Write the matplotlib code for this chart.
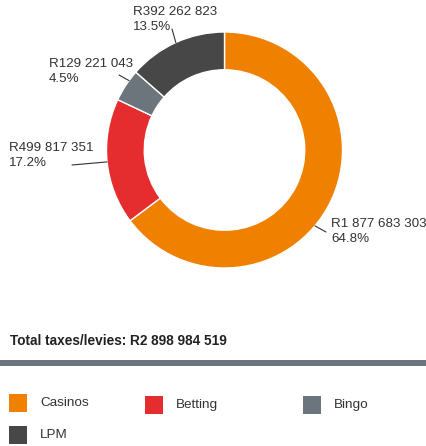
import numpy as np
import matplotlib.pyplot as plt
from matplotlib.patches import Rectangle

plt.rcParams['font.family'] = ['Liberation Sans', 'DejaVu Sans']

# --- data ---
categories = ["Casinos", "Betting", "Bingo", "LPM"]
values = [1877683303, 499817351, 129221043, 392262823]
percents = ["64.8%", "17.2%", "4.5%", "13.5%"]
total_label = "Total taxes/levies: R2 898 984 519"
colors = ["#F08000", "#E52D2F", "#6B757B", "#474747"]

W, H = 427, 446


def fx(px):
    return px / W


def fy(py):
    return 1 - py / H


def money(v):
    s = f"{v:,}".replace(",", " ")
    return "R" + s


fig = plt.figure(figsize=(W / 100, H / 100), dpi=100)

# donut, centre at (224.5, 150) px, outer radius 118 px
cx, cy, r = 224.5, 150, 118
ax = fig.add_axes([fx(cx - r), fy(cy + r), 2 * r / W, 2 * r / H])
wedges, _ = ax.pie(values, colors=colors, startangle=90, counterclock=False,
                   radius=1, wedgeprops=dict(width=0.32, edgecolor="white", linewidth=1))
ax.set_xlim(-1, 1)
ax.set_ylim(-1, 1)
ax.set_aspect("equal")
ax.axis("off")

# label text positions (px) and leader line ends (px)
text_pos = [(331, 218), (9, 142), (49, 58), (133, 6)]
line_end = [(326, 232), (72, 165), (119, 75), (172, 29)]
anchor_angle = [-40, None, 144, None]

for i, w in enumerate(wedges):
    ang = anchor_angle[i]
    if ang is None:
        ang = (w.theta1 + w.theta2) / 2
    a = np.deg2rad(ang)
    x0, y0 = np.cos(a), np.sin(a)
    ex, ey = line_end[i]
    ax.annotate("", xy=(x0, y0), xycoords="data",
                xytext=(fx(ex), fy(ey)), textcoords="figure fraction",
                arrowprops=dict(arrowstyle="-", color="#333333", lw=0.8,
                                shrinkA=0, shrinkB=0))
    tx, ty = text_pos[i]
    fig.text(fx(tx), fy(ty), f"{money(values[i])}\n{percents[i]}",
             ha="left", va="top", fontsize=9.6, color="#333333", linespacing=1.3)

# total
fig.text(fx(10), fy(341), total_label, ha="left", va="center",
         fontsize=9.8, fontweight="bold", color="#222222")

# separator bar
fig.add_artist(Rectangle((0, fy(366)), 1, 6 / H, transform=fig.transFigure,
                         facecolor="#6B757B", edgecolor="none"))

# legend
leg_pos = [(9, 394), (145, 396), (303, 396), (9, 426)]
for (lx, ly), name, c in zip(leg_pos, categories, colors):
    fig.add_artist(Rectangle((fx(lx), fy(ly + 18)), 18 / W, 18 / H,
                             transform=fig.transFigure, facecolor=c, edgecolor="none"))
    fig.text(fx(lx + 31), fy(ly + 9), name, ha="left", va="center",
             fontsize=9.7, color="#333333")

fig.savefig("out.png", dpi=100)
